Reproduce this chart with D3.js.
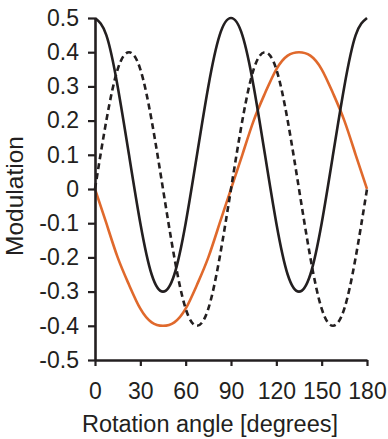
<!DOCTYPE html>
<html>
<head>
<meta charset="utf-8">
<script src="https://cdn.jsdelivr.net/npm/d3@7"></script>
<style>
  html, body { margin: 0; padding: 0; background: #fff; }
  svg { display: block; font-family: "Liberation Sans", Arial, Helvetica, sans-serif; }
</style>
</head>
<body>
<svg id="chart" width="388" height="439"></svg>
<script>
// Rotation angles (degrees)
const angles = [0, 7.5, 15, 22.5, 30, 37.5, 45, 52.5, 60, 67.5, 75, 82.5, 90,
                97.5, 105, 112.5, 120, 127.5, 135, 142.5, 150, 157.5, 165, 172.5, 180];
// Solid black series
const solidSeries = [0.50, 0.45, 0.30, 0.10, -0.10, -0.25, -0.30, -0.25, -0.10, 0.10, 0.30, 0.45, 0.50,
                     0.45, 0.30, 0.10, -0.10, -0.25, -0.30, -0.25, -0.10, 0.10, 0.30, 0.45, 0.50];
// Dashed black series
const dashedSeries = [0.00, 0.20, 0.35, 0.40, 0.35, 0.20, 0.00, -0.20, -0.35, -0.40, -0.35, -0.20, 0.00,
                      0.20, 0.35, 0.40, 0.35, 0.20, 0.00, -0.20, -0.35, -0.40, -0.35, -0.20, 0.00];
// Orange series
const orangeSeries = [0.00, -0.10, -0.20, -0.28, -0.35, -0.39, -0.40, -0.39, -0.35, -0.28, -0.20, -0.10, 0.00,
                      0.10, 0.20, 0.28, 0.35, 0.39, 0.40, 0.39, 0.35, 0.28, 0.20, 0.10, 0.00];
// Tick values
const xTicks = [0, 30, 60, 90, 120, 150, 180];
const yTicks = [-0.5, -0.4, -0.3, -0.2, -0.1, 0, 0.1, 0.2, 0.3, 0.4, 0.5];
const xTitle = "Rotation angle [degrees]";
const yTitle = "Modulation";

const svg = d3.select("#chart");
const x = d3.scaleLinear().domain([0, 180]).range([95, 367]);
const y = d3.scaleLinear().domain([-0.5, 0.5]).range([360, 18]);
const ink = "#231f20";

const line = d3.line().x(d => x(d[0])).y(d => y(d[1])).curve(d3.curveNatural);

function draw(vals, color, dash) {
  svg.append("path")
    .datum(angles.map((a, i) => [a, vals[i]]))
    .attr("d", line)
    .attr("fill", "none")
    .attr("stroke", color)
    .attr("stroke-width", 2.6)
    .attr("stroke-dasharray", dash || null);
}
draw(orangeSeries, "#e0692c");
draw(dashedSeries, ink, "6,4");
draw(solidSeries, ink);

// Axes
const yAxis = d3.axisLeft(y).tickValues(yTicks).tickSize(7).tickSizeOuter(0).tickPadding(9)
  .tickFormat(d => d === 0 ? "0" : d.toFixed(1));
const gy = svg.append("g").attr("transform", "translate(95,0)").call(yAxis);
const xAxis = d3.axisBottom(x).tickValues(xTicks).tickSize(6).tickSizeOuter(0).tickPadding(17)
  .tickFormat(d => String(d));
const gx = svg.append("g").attr("transform", "translate(0,360)").call(xAxis);

[gx, gy].forEach(g => {
  g.select(".domain").attr("stroke", ink).attr("stroke-width", 2.6);
  g.selectAll(".tick line").attr("stroke", ink).attr("stroke-width", 2.2);
  g.selectAll(".tick text").attr("fill", ink).style("font-size", "23px")
    .style("font-family", "'Liberation Sans', Arial, sans-serif");
});

svg.append("text")
  .attr("x", 210).attr("y", 432)
  .attr("text-anchor", "middle")
  .attr("fill", ink)
  .style("font-size", "23.5px")
  .text(xTitle);

svg.append("text")
  .attr("transform", "translate(23,196) rotate(-90)")
  .attr("text-anchor", "middle")
  .attr("fill", ink)
  .style("font-size", "24.5px")
  .text(yTitle);
</script>
</body>
</html>
